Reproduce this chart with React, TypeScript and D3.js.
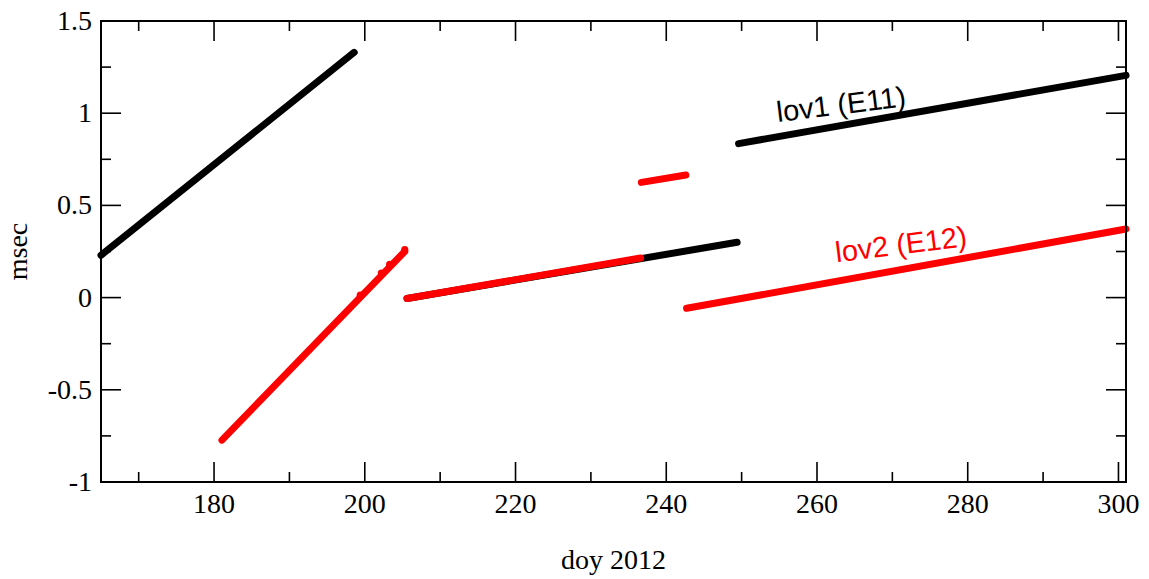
import React from "react";
import * as d3 from "d3";

const W = 1149, H = 579;
const M = { left: 101, right: 1149 - 1126, top: 21, bottom: 579 - 482 };

const xDomain: [number, number] = [165, 301];
const yDomain: [number, number] = [-1, 1.5];
const xMajor = [180, 200, 220, 240, 260, 280, 300];
const xMinor = [170, 190, 210, 230, 250, 270, 290];
const yMajor = [-1, -0.5, 0, 0.5, 1, 1.5];
const yMinor = [-0.75, -0.25, 0.25, 0.75, 1.25];
const yTickLabels = ["-1", "-0.5", "0", "0.5", "1", "1.5"];

// lov1 (E11) segments [doy, msec]
const lov1SegA: [number, number][] = [[165.0, 0.23], [198.6, 1.33]];
const lov1SegB: [number, number][] = [[205.6, -0.005], [249.4, 0.30]];
const lov1SegC: [number, number][] = [[249.6, 0.835], [301.0, 1.205]];

// lov2 (E12) segments [doy, msec]
const lov2SegA: [number, number][] = [[181.05, -0.773], [205.3, 0.25]];
const lov2SegB: [number, number][] = [[205.6, -0.005], [236.6, 0.215]];
const lov2SegC: [number, number][] = [[236.7, 0.625], [242.6, 0.665]];
const lov2SegD: [number, number][] = [[242.7, -0.058], [301.0, 0.372]];
const lov2Outliers: [number, number][] = [[199.4, 0.013], [202.2, 0.133], [203.3, 0.18], [205.3, 0.26]];

const lov1Segments = [lov1SegA, lov1SegB, lov1SegC];
const lov2Segments = [lov2SegA, lov2SegB, lov2SegC, lov2SegD];

const labels = [
  { text: "lov1 (E11)", doy: 254.8, msec: 0.952, color: "#000" },
  { text: "lov2 (E12)", doy: 262.6, msec: 0.192, color: "#ff0000" },
];

export default function App() {
  const x = d3.scaleLinear().domain(xDomain).range([M.left, W - M.right]);
  const y = d3.scaleLinear().domain(yDomain).range([H - M.bottom, M.top]);
  const line = d3.line<[number, number]>().x(d => x(d[0])).y(d => y(d[1]));
  const x0 = M.left, x1 = W - M.right, y0 = M.top, y1 = H - M.bottom;
  const serif = "'Liberation Serif', 'Times New Roman', serif";
  const sans = "'Liberation Sans', Arial, sans-serif";
  const tickStroke = { stroke: "#000", strokeWidth: 1.6 };
  return (
    <svg width={W} height={H} style={{ position: "absolute", left: 0, top: 0, background: "#fff" }}>
      <rect x={0} y={0} width={W} height={H} fill="#fff" />
      {lov1Segments.map((s, i) => (
        <path key={"b" + i} d={line(s) || ""} fill="none" stroke="#000" strokeWidth={7} strokeLinecap="round" />
      ))}
      {lov2Segments.map((s, i) => (
        <path key={"r" + i} d={line(s) || ""} fill="none" stroke="#ff0000" strokeWidth={7} strokeLinecap="round" />
      ))}
      {lov2Outliers.map((p, i) => (
        <circle key={"o" + i} cx={x(p[0])} cy={y(p[1])} r={3.6} fill="#ff0000" />
      ))}
      {/* ticks */}
      {xMajor.map(v => (
        <g key={"xM" + v}>
          <line x1={x(v)} x2={x(v)} y1={y1} y2={y1 - 20} {...tickStroke} />
          <line x1={x(v)} x2={x(v)} y1={y0} y2={y0 + 20} {...tickStroke} />
          <text x={x(v)} y={y1 + 31} textAnchor="middle" fontFamily={serif} fontSize={28}>{v}</text>
        </g>
      ))}
      {xMinor.map(v => (
        <g key={"xm" + v}>
          <line x1={x(v)} x2={x(v)} y1={y1} y2={y1 - 10} {...tickStroke} />
          <line x1={x(v)} x2={x(v)} y1={y0} y2={y0 + 10} {...tickStroke} />
        </g>
      ))}
      {yMajor.map((v, i) => (
        <g key={"yM" + v}>
          <line x1={x0} x2={x0 + 20} y1={y(v)} y2={y(v)} {...tickStroke} />
          <line x1={x1} x2={x1 - 20} y1={y(v)} y2={y(v)} {...tickStroke} />
          <text x={x0 - 9} y={y(v) + 9} textAnchor="end" fontFamily={serif} fontSize={28}>{yTickLabels[i]}</text>
        </g>
      ))}
      {yMinor.map(v => (
        <g key={"ym" + v}>
          <line x1={x0} x2={x0 + 10} y1={y(v)} y2={y(v)} {...tickStroke} />
          <line x1={x1} x2={x1 - 10} y1={y(v)} y2={y(v)} {...tickStroke} />
        </g>
      ))}
      <rect x={x0} y={y0} width={x1 - x0} height={y1 - y0} fill="none" stroke="#000" strokeWidth={2} />
      {labels.map(l => (
        <text key={l.text} transform={`translate(${x(l.doy)},${y(l.msec)}) rotate(-7)`} fontFamily={sans} fontSize={29} fill={l.color}>{l.text}</text>
      ))}
      <text x={(x0 + x1) / 2} y={569} textAnchor="middle" fontFamily={serif} fontSize={28}>doy 2012</text>
      <text transform={`translate(27,${(y0 + y1) / 2}) rotate(-90)`} textAnchor="middle" fontFamily={serif} fontSize={28}>msec</text>
    </svg>
  );
}
